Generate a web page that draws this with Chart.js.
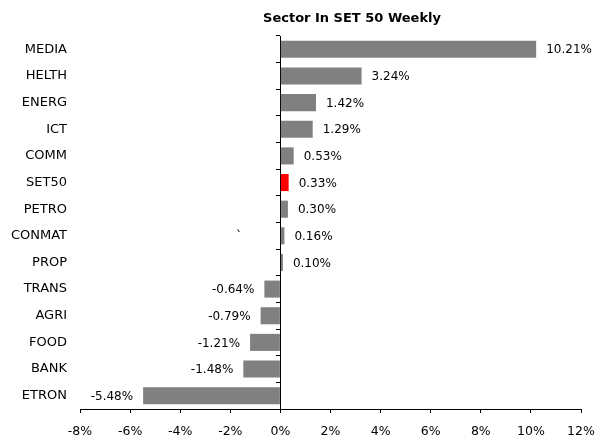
<!DOCTYPE html>
<html><head><meta charset="utf-8">
<script src="https://cdn.jsdelivr.net/npm/chart.js@4/dist/chart.umd.min.js"></script>
<style>html,body{margin:0;padding:0;background:#fff;} #wrap{width:596px;height:440px;position:relative;}</style>
</head><body><div id="wrap"><canvas id="c"></canvas></div>
<script>
const TITLE = 'Sector In SET 50 Weekly';
const categories = ['MEDIA','HELTH','ENERG','ICT','COMM','SET50','PETRO','CONMAT','PROP','TRANS','AGRI','FOOD','BANK','ETRON'];
const values = [10.21, 3.24, 1.42, 1.29, 0.53, 0.33, 0.30, 0.16, 0.10, -0.64, -0.79, -1.21, -1.48, -5.48];
const highlightCategory = 'SET50';
const xTicks = [-8, -6, -4, -2, 0, 2, 4, 6, 8, 10, 12];
const strayMark = { text: '`', value: -1.65, category: 'CONMAT' };

const FONT = 'DejaVu Sans';
const GREY = '#808080';
const RED = '#FF0000';

const labelPlugin = {
  id: 'valueLabels',
  afterDatasetsDraw(chart) {
    const ctx = chart.ctx;
    const meta = chart.getDatasetMeta(0);
    ctx.save();
    ctx.font = '12px "' + FONT + '"';
    ctx.fillStyle = '#000';
    ctx.textBaseline = 'middle';
    meta.data.forEach((bar, i) => {
      const v = values[i];
      const txt = v.toFixed(2) + '%';
      if (v >= 0) { ctx.textAlign = 'left'; ctx.fillText(txt, bar.x + 10, bar.y + 1); }
      else { ctx.textAlign = 'right'; ctx.fillText(txt, bar.x - 10, bar.y + 1); }
    });
    // stray mark present in the reference
    const xs = chart.scales.x, ys = chart.scales.y;
    ctx.textAlign = 'center';
    ctx.fillText(strayMark.text, xs.getPixelForValue(strayMark.value), ys.getPixelForValue(categories.indexOf(strayMark.category)) + 1);
    // title
    ctx.font = 'bold 13px "' + FONT + '"';
    ctx.textAlign = 'center';
    ctx.fillText(TITLE, 352, 19);
    ctx.restore();
  }
};

new Chart(document.getElementById('c'), {
  type: 'bar',
  data: {
    labels: categories,
    datasets: [{
      data: values,
      backgroundColor: categories.map(c => c === highlightCategory ? RED : GREY),
      borderWidth: 0,
      barPercentage: 0.64,
      categoryPercentage: 1.0,
      yAxisID: 'y',
      xAxisID: 'x'
    }]
  },
  options: {
    indexAxis: 'y',
    responsive: true,
    maintainAspectRatio: false,
    animation: false,
    devicePixelRatio: 1,
    layout: { padding: { top: 36, right: 15, left: 0, bottom: 0 } },
    plugins: { legend: { display: false }, title: { display: false }, tooltip: { enabled: false } },
    scales: {
      x: {
        type: 'linear', position: 'bottom', min: -8, max: 12,
        afterBuildTicks: s => { s.ticks = xTicks.map(v => ({ value: v })); },
        ticks: { callback: v => v + '%', color: '#000', font: { family: FONT, size: 12.5 }, padding: 11, maxRotation: 0 },
        grid: { display: true, drawOnChartArea: false, drawTicks: true, tickLength: 4, color: '#000', lineWidth: 1 },
        border: { display: true, color: '#000', width: 1 },
        afterFit: s => { s.height = 31; s.paddingRight = 0; s.paddingLeft = 0; }
      },
      y: {
        type: 'category', position: 'left',
        grid: { display: false },
        border: { display: false },
        ticks: { color: '#000', font: { family: FONT, size: 13 }, padding: 5 },
        afterFit: s => { s.width = 80; }
      },
      y2: {
        axis: 'y', type: 'category', position: { x: 0 }, offset: true,
        grid: { display: true, offset: true, drawOnChartArea: false, drawTicks: true, tickLength: 4, color: '#000', lineWidth: 1 },
        border: { display: true, color: '#000', width: 1 },
        ticks: { display: false }
      }
    }
  },
  plugins: [labelPlugin]
});
</script>
</body></html>
